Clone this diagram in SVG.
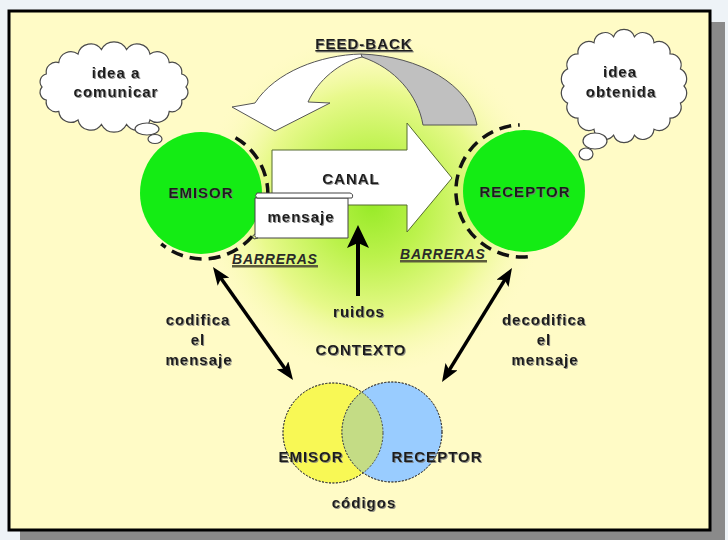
<svg xmlns="http://www.w3.org/2000/svg" width="728" height="540" viewBox="0 0 728 540">
  <style>
    .t { font-family: "Liberation Sans", Arial, sans-serif; font-weight: bold; font-size: 15px; fill: #1c1c1c; letter-spacing: 1px; text-anchor: middle; filter: url(#txtShadow); }
    .bar { font-family: "Liberation Sans", Arial, sans-serif; font-weight: bold; font-style: italic; font-size: 14px; fill: #2a2a2a; letter-spacing: 0.8px; }
    .cloud { fill: #ffffff; stroke: #4a4a4a; stroke-width: 1.2; }
    .ring { fill: none; stroke: #111; stroke-width: 3.5; stroke-dasharray: 12 7; }
    .green { fill: #14ec14; }
    .link { fill: none; stroke: #000; stroke-width: 3.5; marker-start: url(#head); marker-end: url(#head); }
    .venn { stroke: #3a3a3a; stroke-width: 0.9; stroke-dasharray: 2 1.5; }
  </style>
  <defs>
    <filter id="txtShadow" x="-10%" y="-20%" width="130%" height="150%">
      <feDropShadow dx="1" dy="1" stdDeviation="0.3" flood-color="#777" flood-opacity="0.8"/>
    </filter>
    <radialGradient id="glow" cx="372" cy="205" r="175" gradientUnits="userSpaceOnUse">
      <stop offset="0" stop-color="#98ea28"/>
      <stop offset="0.3" stop-color="#bcf24c"/>
      <stop offset="0.65" stop-color="#e8f98c"/>
      <stop offset="1" stop-color="#fffbc6" stop-opacity="0"/>
    </radialGradient>
    <marker id="head" viewBox="0 0 18 14" markerUnits="userSpaceOnUse" markerWidth="18" markerHeight="14" refX="10" refY="7" orient="auto-start-reverse">
      <path d="M0,0 L18,7 L0,14 L4,7 Z" fill="#000"/>
    </marker>
    <clipPath id="yellowClip">
      <circle cx="333" cy="433" r="50"/>
    </clipPath>
  </defs>

  <!-- page background, drop shadow and panel -->
  <rect x="0" y="0" width="728" height="540" fill="#eef3f7"/>
  <rect x="20" y="22" width="705" height="518" fill="#8a8a8a"/>
  <rect x="9" y="11" width="701" height="519" fill="#fffbc6" stroke="#000" stroke-width="3"/>

  <!-- context glow -->
  <ellipse cx="372" cy="205" rx="178" ry="168" fill="url(#glow)"/>

  <!-- feedback arrow -->
  <g id="feedback">
    <path d="M361,54 C420,56 470,85 477,125 L423,125 C418,95 395,68 362,57 Z" fill="#c0c0c0" stroke="#555" stroke-width="1"/>
    <path d="M361,54 C320,55 275,72 255,103 L232,107 L275,131 L330,103 L308,102 C318,80 340,62 362,57 Z" fill="#ffffff" stroke="#555" stroke-width="1"/>
    <text class="t" x="364" y="49" text-decoration="underline">FEED-BACK</text>
  </g>

  <!-- thought clouds -->
  <g id="cloud-emisor">
    <path class="cloud" d="M42,87 A8,8 0 0 1 46.3,74 A10,10 0 0 1 58.8,62.6 A12,12 0 0 1 78,54.1 A13,13 0 0 1 101.5,49.6 A14,14 0 0 1 126.5,49.6 A13,13 0 0 1 150,54.1 A12,12 0 0 1 169.2,62.6 A10,10 0 0 1 181.7,74 A8,8 0 0 1 186,87 A8,8 0 0 1 181.7,100 A10,10 0 0 1 169.2,111.4 A12,12 0 0 1 150,119.9 A13,13 0 0 1 126.5,124.4 A14,14 0 0 1 101.5,124.4 A13,13 0 0 1 78,119.9 A12,12 0 0 1 58.8,111.4 A10,10 0 0 1 46.3,100 A8,8 0 0 1 42,87 Z"/>
    <ellipse class="cloud" cx="147" cy="129" rx="12" ry="6"/>
    <ellipse class="cloud" cx="155" cy="139" rx="7" ry="4.5"/>
    <text class="t" x="116" y="78">idea a</text>
    <text class="t" x="116" y="97">comunicar</text>
  </g>
  <g id="cloud-receptor">
    <path class="cloud" d="M564,86 A11,11 0 0 1 567.6,68.9 A11,11 0 0 1 578,53.9 A11,11 0 0 1 594,42.7 A11,11 0 0 1 613.6,36.8 A11,11 0 0 1 634.4,36.8 A11,11 0 0 1 654,42.7 A11,11 0 0 1 670,53.9 A11,11 0 0 1 680.4,68.9 A11,11 0 0 1 684,86 A11,11 0 0 1 680.4,103.1 A11,11 0 0 1 670,118.1 A11,11 0 0 1 654,129.3 A11,11 0 0 1 634.4,135.2 A11,11 0 0 1 613.6,135.2 A11,11 0 0 1 594,129.3 A11,11 0 0 1 578,118.1 A11,11 0 0 1 567.6,103.1 A11,11 0 0 1 564,86 Z"/>
    <ellipse class="cloud" cx="595" cy="141" rx="12" ry="8"/>
    <ellipse class="cloud" cx="586" cy="154" rx="7" ry="6"/>
    <text class="t" x="620" y="77">idea</text>
    <text class="t" x="621" y="97">obtenida</text>
  </g>

  <!-- sender and receiver with their barriers -->
  <g id="emisor">
    <circle class="green" cx="201" cy="193" r="61"/>
    <path class="ring" d="M235.5,137.7 A65,65 0 1 1 161.2,243.8"/>
    <text class="t" x="201" y="198">EMISOR</text>
  </g>
  <g id="receptor">
    <circle class="green" cx="524" cy="191" r="61"/>
    <path class="ring" d="M527.8,256.7 A66,66 0 1 1 519.7,125"/>
    <text class="t" x="525" y="197">RECEPTOR</text>
  </g>

  <!-- channel -->
  <g id="canal">
    <path d="M272,150 L407,150 L407,123 L452,178 L407,232 L407,205 L272,205 Z" fill="#ffffff" stroke="#556b2f" stroke-width="1"/>
    <text class="t" x="351" y="184">CANAL</text>
  </g>

  <!-- message scroll -->
  <g id="mensaje">
    <path d="M255,198 L348,198 L348,238 L258,238 Q254,238 255,234 Z" fill="#ffffff" stroke="#444" stroke-width="1"/>
    <path d="M257,193 L350,193 Q354,194 352,198 L257,198 Q254,196 257,193 Z" fill="#ffffff" stroke="#444" stroke-width="1"/>
    <path d="M255,234 Q251,236 254,239 L258,238" fill="none" stroke="#444" stroke-width="1"/>
    <text class="t" x="301" y="222">mensaje</text>
  </g>

  <!-- barriers labels -->
  <g id="barreras">
    <rect x="232" y="265" width="86" height="2.5" fill="#5c5c3c"/>
    <text class="bar" x="232" y="264">BARRERAS</text>
    <rect x="400" y="260" width="87" height="2.5" fill="#5c5c3c"/>
    <text class="bar" x="400" y="259">BARRERAS</text>
  </g>

  <!-- noise -->
  <g id="ruidos">
    <line x1="358" y1="296" x2="358" y2="240" stroke="#000" stroke-width="4"/>
    <path d="M358,225 L369,248 L358,243 L347,248 Z" fill="#000"/>
    <text class="t" x="359" y="317">ruidos</text>
  </g>

  <g id="contexto">
    <text class="t" x="361" y="355">CONTEXTO</text>
  </g>

  <!-- encode / decode links -->
  <g id="connectors">
    <line class="link" x1="217.6" y1="273.5" x2="288.4" y2="373.5"/>
    <line class="link" x1="507.8" y1="274.8" x2="446.2" y2="375.2"/>
  </g>
  <g id="codifica">
    <text class="t" x="198" y="325">codifica</text>
    <text class="t" x="198" y="345">el</text>
    <text class="t" x="199" y="365">mensaje</text>
  </g>
  <g id="decodifica">
    <text class="t" x="544" y="325">decodifica</text>
    <text class="t" x="544" y="345">el</text>
    <text class="t" x="545" y="365">mensaje</text>
  </g>

  <!-- shared codes -->
  <g id="codigos">
    <circle class="venn" cx="333" cy="433" r="50" fill="#f8f855"/>
    <circle class="venn" cx="392" cy="432" r="50" fill="#99ccff"/>
    <circle cx="392" cy="432" r="50" fill="#c4dc85" clip-path="url(#yellowClip)"/>
    <circle class="venn" cx="333" cy="433" r="50" fill="none"/>
    <circle class="venn" cx="392" cy="432" r="50" fill="none"/>
    <text class="t" x="311" y="462">EMISOR</text>
    <text class="t" x="437" y="462">RECEPTOR</text>
    <text class="t" x="364" y="508">códigos</text>
  </g>
</svg>
